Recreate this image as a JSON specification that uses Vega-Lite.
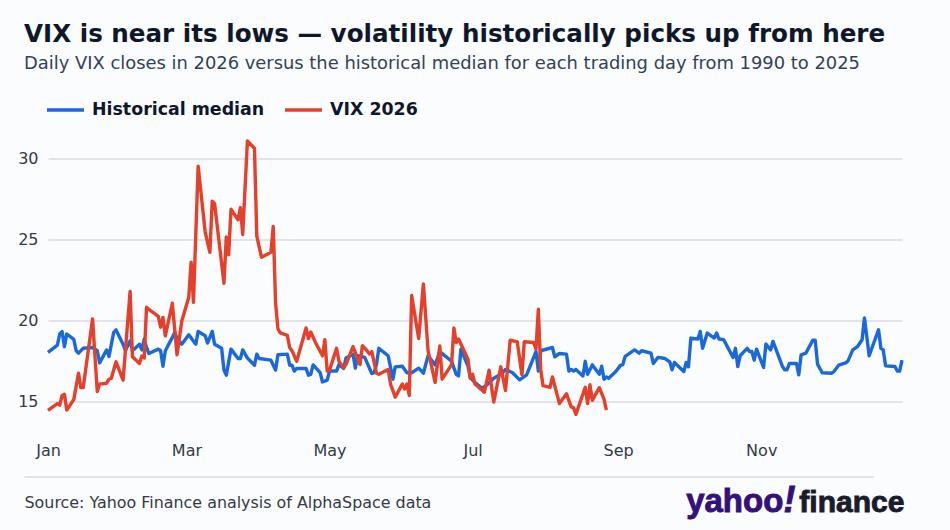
{
  "$schema": "https://vega.github.io/schema/vega-lite/v6.json",
  "autosize": "none",
  "width": 854,
  "height": 309,
  "padding": {"left": 48, "top": 125.5, "right": 48, "bottom": 95.5},
  "background": "#fbfcfe",
  "title": {
    "text": "VIX is near its lows — volatility historically picks up from here",
    "subtitle": "Daily VIX closes in 2026 versus the historical median for each trading day from 1990 to 2025",
    "anchor": "start",
    "frame": "group",
    "dx": -24,
    "offset": 16,
    "font": "DejaVu Sans",
    "fontSize": 24.6,
    "fontWeight": "bold",
    "color": "#0f172a",
    "subtitleFont": "DejaVu Sans",
    "subtitleFontSize": 17.9,
    "subtitleColor": "#334155",
    "subtitlePadding": 7
  },
  "config": {"view": {"stroke": null}},
  "layer": [
    {
      "data": {"values": [
        {"date":"2026-01-01","series":"Historical median","vix":18.05},
        {"date":"2026-01-05","series":"Historical median","vix":18.5},
        {"date":"2026-01-06","series":"Historical median","vix":19.18},
        {"date":"2026-01-07","series":"Historical median","vix":19.33},
        {"date":"2026-01-08","series":"Historical median","vix":18.4},
        {"date":"2026-01-09","series":"Historical median","vix":19.18},
        {"date":"2026-01-12","series":"Historical median","vix":18.85},
        {"date":"2026-01-13","series":"Historical median","vix":18.15},
        {"date":"2026-01-14","series":"Historical median","vix":18.0},
        {"date":"2026-01-16","series":"Historical median","vix":18.3},
        {"date":"2026-01-20","series":"Historical median","vix":18.35},
        {"date":"2026-01-22","series":"Historical median","vix":18.15},
        {"date":"2026-01-23","series":"Historical median","vix":17.4},
        {"date":"2026-01-26","series":"Historical median","vix":18.2},
        {"date":"2026-01-27","series":"Historical median","vix":17.8},
        {"date":"2026-01-29","series":"Historical median","vix":19.28},
        {"date":"2026-01-30","series":"Historical median","vix":19.43},
        {"date":"2026-02-02","series":"Historical median","vix":18.55},
        {"date":"2026-02-03","series":"Historical median","vix":18.15},
        {"date":"2026-02-05","series":"Historical median","vix":18.76},
        {"date":"2026-02-06","series":"Historical median","vix":18.15},
        {"date":"2026-02-09","series":"Historical median","vix":18.55},
        {"date":"2026-02-10","series":"Historical median","vix":18.2},
        {"date":"2026-02-11","series":"Historical median","vix":18.87},
        {"date":"2026-02-12","series":"Historical median","vix":18.35},
        {"date":"2026-02-13","series":"Historical median","vix":17.98},
        {"date":"2026-02-17","series":"Historical median","vix":18.25},
        {"date":"2026-02-18","series":"Historical median","vix":18.15},
        {"date":"2026-02-19","series":"Historical median","vix":17.2},
        {"date":"2026-02-20","series":"Historical median","vix":18.15},
        {"date":"2026-02-23","series":"Historical median","vix":18.97},
        {"date":"2026-02-24","series":"Historical median","vix":19.28},
        {"date":"2026-02-25","series":"Historical median","vix":18.9},
        {"date":"2026-02-27","series":"Historical median","vix":18.55},
        {"date":"2026-03-02","series":"Historical median","vix":19.13},
        {"date":"2026-03-05","series":"Historical median","vix":18.55},
        {"date":"2026-03-06","series":"Historical median","vix":19.34},
        {"date":"2026-03-09","series":"Historical median","vix":19.07},
        {"date":"2026-03-10","series":"Historical median","vix":18.62},
        {"date":"2026-03-12","series":"Historical median","vix":19.34},
        {"date":"2026-03-13","series":"Historical median","vix":18.55},
        {"date":"2026-03-16","series":"Historical median","vix":18.3},
        {"date":"2026-03-17","series":"Historical median","vix":16.96},
        {"date":"2026-03-18","series":"Historical median","vix":16.65},
        {"date":"2026-03-20","series":"Historical median","vix":18.25},
        {"date":"2026-03-23","series":"Historical median","vix":17.67},
        {"date":"2026-03-24","series":"Historical median","vix":17.67},
        {"date":"2026-03-25","series":"Historical median","vix":18.2},
        {"date":"2026-03-27","series":"Historical median","vix":17.7},
        {"date":"2026-03-30","series":"Historical median","vix":17.26},
        {"date":"2026-03-31","series":"Historical median","vix":17.94},
        {"date":"2026-04-01","series":"Historical median","vix":17.67},
        {"date":"2026-04-06","series":"Historical median","vix":17.57},
        {"date":"2026-04-08","series":"Historical median","vix":16.96},
        {"date":"2026-04-09","series":"Historical median","vix":17.9},
        {"date":"2026-04-13","series":"Historical median","vix":17.94},
        {"date":"2026-04-14","series":"Historical median","vix":17.26},
        {"date":"2026-04-15","series":"Historical median","vix":17.26},
        {"date":"2026-04-16","series":"Historical median","vix":16.9},
        {"date":"2026-04-17","series":"Historical median","vix":17.06},
        {"date":"2026-04-21","series":"Historical median","vix":17.06},
        {"date":"2026-04-22","series":"Historical median","vix":16.65},
        {"date":"2026-04-23","series":"Historical median","vix":16.7},
        {"date":"2026-04-24","series":"Historical median","vix":17.28},
        {"date":"2026-04-27","series":"Historical median","vix":16.8},
        {"date":"2026-04-28","series":"Historical median","vix":16.23},
        {"date":"2026-04-30","series":"Historical median","vix":16.34},
        {"date":"2026-05-01","series":"Historical median","vix":16.9},
        {"date":"2026-05-04","series":"Historical median","vix":16.9},
        {"date":"2026-05-05","series":"Historical median","vix":17.3},
        {"date":"2026-05-07","series":"Historical median","vix":17.06},
        {"date":"2026-05-08","series":"Historical median","vix":17.7},
        {"date":"2026-05-11","series":"Historical median","vix":17.94},
        {"date":"2026-05-12","series":"Historical median","vix":17.08},
        {"date":"2026-05-13","series":"Historical median","vix":17.85},
        {"date":"2026-05-16","series":"Historical median","vix":17.74},
        {"date":"2026-05-19","series":"Historical median","vix":16.75},
        {"date":"2026-05-20","series":"Historical median","vix":16.8},
        {"date":"2026-05-21","series":"Historical median","vix":17.3},
        {"date":"2026-05-22","series":"Historical median","vix":18.3},
        {"date":"2026-05-26","series":"Historical median","vix":17.84},
        {"date":"2026-05-28","series":"Historical median","vix":16.4},
        {"date":"2026-05-29","series":"Historical median","vix":17.16},
        {"date":"2026-06-01","series":"Historical median","vix":17.2},
        {"date":"2026-06-03","series":"Historical median","vix":16.8},
        {"date":"2026-06-05","series":"Historical median","vix":16.8},
        {"date":"2026-06-08","series":"Historical median","vix":17.08},
        {"date":"2026-06-10","series":"Historical median","vix":16.77},
        {"date":"2026-06-12","series":"Historical median","vix":17.84},
        {"date":"2026-06-15","series":"Historical median","vix":17.28},
        {"date":"2026-06-17","series":"Historical median","vix":18.1},
        {"date":"2026-06-21","series":"Historical median","vix":17.63},
        {"date":"2026-06-22","series":"Historical median","vix":17.5},
        {"date":"2026-06-24","series":"Historical median","vix":16.7},
        {"date":"2026-06-25","series":"Historical median","vix":16.6},
        {"date":"2026-06-26","series":"Historical median","vix":18.25},
        {"date":"2026-06-29","series":"Historical median","vix":17.2},
        {"date":"2026-06-30","series":"Historical median","vix":16.5},
        {"date":"2026-07-02","series":"Historical median","vix":16.2},
        {"date":"2026-07-05","series":"Historical median","vix":15.84},
        {"date":"2026-07-07","series":"Historical median","vix":16.05},
        {"date":"2026-07-10","series":"Historical median","vix":16.46},
        {"date":"2026-07-13","series":"Historical median","vix":16.7},
        {"date":"2026-07-15","series":"Historical median","vix":17.0},
        {"date":"2026-07-18","series":"Historical median","vix":16.8},
        {"date":"2026-07-21","series":"Historical median","vix":16.36},
        {"date":"2026-07-24","series":"Historical median","vix":16.67},
        {"date":"2026-07-28","series":"Historical median","vix":18.1},
        {"date":"2026-07-29","series":"Historical median","vix":16.9},
        {"date":"2026-07-30","series":"Historical median","vix":18.15},
        {"date":"2026-08-04","series":"Historical median","vix":18.35},
        {"date":"2026-08-05","series":"Historical median","vix":17.78},
        {"date":"2026-08-07","series":"Historical median","vix":17.98},
        {"date":"2026-08-10","series":"Historical median","vix":17.94},
        {"date":"2026-08-11","series":"Historical median","vix":16.9},
        {"date":"2026-08-12","series":"Historical median","vix":17.0},
        {"date":"2026-08-13","series":"Historical median","vix":16.9},
        {"date":"2026-08-14","series":"Historical median","vix":17.0},
        {"date":"2026-08-17","series":"Historical median","vix":16.6},
        {"date":"2026-08-18","series":"Historical median","vix":17.5},
        {"date":"2026-08-19","series":"Historical median","vix":16.7},
        {"date":"2026-08-21","series":"Historical median","vix":17.28},
        {"date":"2026-08-24","series":"Historical median","vix":16.7},
        {"date":"2026-08-25","series":"Historical median","vix":17.2},
        {"date":"2026-08-26","series":"Historical median","vix":16.4},
        {"date":"2026-08-27","series":"Historical median","vix":16.54},
        {"date":"2026-08-28","series":"Historical median","vix":16.46},
        {"date":"2026-08-31","series":"Historical median","vix":16.87},
        {"date":"2026-09-02","series":"Historical median","vix":17.25},
        {"date":"2026-09-03","series":"Historical median","vix":17.3},
        {"date":"2026-09-04","series":"Historical median","vix":17.8},
        {"date":"2026-09-08","series":"Historical median","vix":18.2},
        {"date":"2026-09-10","series":"Historical median","vix":18.0},
        {"date":"2026-09-11","series":"Historical median","vix":18.15},
        {"date":"2026-09-15","series":"Historical median","vix":18.0},
        {"date":"2026-09-16","series":"Historical median","vix":17.37},
        {"date":"2026-09-18","series":"Historical median","vix":17.74},
        {"date":"2026-09-21","series":"Historical median","vix":17.67},
        {"date":"2026-09-23","series":"Historical median","vix":17.47},
        {"date":"2026-09-24","series":"Historical median","vix":16.98},
        {"date":"2026-09-25","series":"Historical median","vix":17.43},
        {"date":"2026-09-29","series":"Historical median","vix":16.87},
        {"date":"2026-09-30","series":"Historical median","vix":17.43},
        {"date":"2026-10-01","series":"Historical median","vix":17.16},
        {"date":"2026-10-02","series":"Historical median","vix":18.93},
        {"date":"2026-10-05","series":"Historical median","vix":18.87},
        {"date":"2026-10-06","series":"Historical median","vix":19.34},
        {"date":"2026-10-07","series":"Historical median","vix":18.3},
        {"date":"2026-10-09","series":"Historical median","vix":19.24},
        {"date":"2026-10-12","series":"Historical median","vix":18.93},
        {"date":"2026-10-13","series":"Historical median","vix":19.24},
        {"date":"2026-10-14","series":"Historical median","vix":18.87},
        {"date":"2026-10-16","series":"Historical median","vix":18.83},
        {"date":"2026-10-20","series":"Historical median","vix":17.74},
        {"date":"2026-10-21","series":"Historical median","vix":18.3},
        {"date":"2026-10-22","series":"Historical median","vix":17.18},
        {"date":"2026-10-23","series":"Historical median","vix":17.84},
        {"date":"2026-10-26","series":"Historical median","vix":18.3},
        {"date":"2026-10-27","series":"Historical median","vix":18.1},
        {"date":"2026-10-28","series":"Historical median","vix":18.1},
        {"date":"2026-10-29","series":"Historical median","vix":17.57},
        {"date":"2026-10-30","series":"Historical median","vix":18.25},
        {"date":"2026-11-02","series":"Historical median","vix":17.12},
        {"date":"2026-11-03","series":"Historical median","vix":18.56},
        {"date":"2026-11-05","series":"Historical median","vix":18.2},
        {"date":"2026-11-06","series":"Historical median","vix":18.72},
        {"date":"2026-11-10","series":"Historical median","vix":17.2},
        {"date":"2026-11-11","series":"Historical median","vix":16.98},
        {"date":"2026-11-12","series":"Historical median","vix":16.98},
        {"date":"2026-11-13","series":"Historical median","vix":17.37},
        {"date":"2026-11-16","series":"Historical median","vix":17.37},
        {"date":"2026-11-17","series":"Historical median","vix":16.67},
        {"date":"2026-11-18","series":"Historical median","vix":17.9},
        {"date":"2026-11-20","series":"Historical median","vix":18.0},
        {"date":"2026-11-23","series":"Historical median","vix":18.8},
        {"date":"2026-11-24","series":"Historical median","vix":18.8},
        {"date":"2026-11-25","series":"Historical median","vix":17.33},
        {"date":"2026-11-27","series":"Historical median","vix":16.8},
        {"date":"2026-12-01","series":"Historical median","vix":16.77},
        {"date":"2026-12-02","series":"Historical median","vix":16.87},
        {"date":"2026-12-04","series":"Historical median","vix":17.26},
        {"date":"2026-12-07","series":"Historical median","vix":17.4},
        {"date":"2026-12-08","series":"Historical median","vix":17.53},
        {"date":"2026-12-10","series":"Historical median","vix":18.2},
        {"date":"2026-12-12","series":"Historical median","vix":18.4},
        {"date":"2026-12-14","series":"Historical median","vix":18.83},
        {"date":"2026-12-15","series":"Historical median","vix":20.16},
        {"date":"2026-12-17","series":"Historical median","vix":17.84},
        {"date":"2026-12-21","series":"Historical median","vix":19.44},
        {"date":"2026-12-22","series":"Historical median","vix":18.3},
        {"date":"2026-12-23","series":"Historical median","vix":18.2},
        {"date":"2026-12-24","series":"Historical median","vix":17.22},
        {"date":"2026-12-28","series":"Historical median","vix":17.18},
        {"date":"2026-12-29","series":"Historical median","vix":16.9},
        {"date":"2026-12-30","series":"Historical median","vix":16.9},
        {"date":"2026-12-31","series":"Historical median","vix":17.57},
        {"date":"2026-01-01","series":"VIX 2026","vix":14.49},
        {"date":"2026-01-05","series":"VIX 2026","vix":14.9},
        {"date":"2026-01-06","series":"VIX 2026","vix":14.8},
        {"date":"2026-01-07","series":"VIX 2026","vix":15.4},
        {"date":"2026-01-08","series":"VIX 2026","vix":15.47},
        {"date":"2026-01-09","series":"VIX 2026","vix":14.5},
        {"date":"2026-01-12","series":"VIX 2026","vix":15.16},
        {"date":"2026-01-14","series":"VIX 2026","vix":16.77},
        {"date":"2026-01-15","series":"VIX 2026","vix":15.88},
        {"date":"2026-01-16","series":"VIX 2026","vix":15.88},
        {"date":"2026-01-20","series":"VIX 2026","vix":20.1},
        {"date":"2026-01-22","series":"VIX 2026","vix":15.64},
        {"date":"2026-01-23","series":"VIX 2026","vix":16.1},
        {"date":"2026-01-26","series":"VIX 2026","vix":16.15},
        {"date":"2026-01-27","series":"VIX 2026","vix":16.4},
        {"date":"2026-01-28","series":"VIX 2026","vix":16.46},
        {"date":"2026-01-30","series":"VIX 2026","vix":17.47},
        {"date":"2026-02-02","series":"VIX 2026","vix":16.34},
        {"date":"2026-02-05","series":"VIX 2026","vix":21.8},
        {"date":"2026-02-06","series":"VIX 2026","vix":17.78},
        {"date":"2026-02-09","series":"VIX 2026","vix":17.37},
        {"date":"2026-02-10","series":"VIX 2026","vix":17.82},
        {"date":"2026-02-11","series":"VIX 2026","vix":17.7},
        {"date":"2026-02-12","series":"VIX 2026","vix":20.82},
        {"date":"2026-02-14","series":"VIX 2026","vix":20.58},
        {"date":"2026-02-17","series":"VIX 2026","vix":20.27},
        {"date":"2026-02-18","series":"VIX 2026","vix":19.6},
        {"date":"2026-02-19","series":"VIX 2026","vix":20.2},
        {"date":"2026-02-20","series":"VIX 2026","vix":19.07},
        {"date":"2026-02-23","series":"VIX 2026","vix":21.07},
        {"date":"2026-02-25","series":"VIX 2026","vix":17.9},
        {"date":"2026-02-27","series":"VIX 2026","vix":19.96},
        {"date":"2026-03-02","series":"VIX 2026","vix":21.44},
        {"date":"2026-03-03","series":"VIX 2026","vix":23.6},
        {"date":"2026-03-04","series":"VIX 2026","vix":21.13},
        {"date":"2026-03-06","series":"VIX 2026","vix":29.5},
        {"date":"2026-03-09","series":"VIX 2026","vix":25.45},
        {"date":"2026-03-11","series":"VIX 2026","vix":24.2},
        {"date":"2026-03-12","series":"VIX 2026","vix":27.35},
        {"date":"2026-03-13","series":"VIX 2026","vix":27.2},
        {"date":"2026-03-17","series":"VIX 2026","vix":22.3},
        {"date":"2026-03-18","series":"VIX 2026","vix":25.15},
        {"date":"2026-03-19","series":"VIX 2026","vix":24.05},
        {"date":"2026-03-20","series":"VIX 2026","vix":26.85},
        {"date":"2026-03-23","series":"VIX 2026","vix":26.2},
        {"date":"2026-03-24","series":"VIX 2026","vix":26.95},
        {"date":"2026-03-25","series":"VIX 2026","vix":25.3},
        {"date":"2026-03-27","series":"VIX 2026","vix":31.05},
        {"date":"2026-03-30","series":"VIX 2026","vix":30.6},
        {"date":"2026-03-31","series":"VIX 2026","vix":25.2},
        {"date":"2026-04-02","series":"VIX 2026","vix":23.9},
        {"date":"2026-04-06","series":"VIX 2026","vix":24.2},
        {"date":"2026-04-07","series":"VIX 2026","vix":25.8},
        {"date":"2026-04-08","series":"VIX 2026","vix":21.1},
        {"date":"2026-04-09","series":"VIX 2026","vix":19.5},
        {"date":"2026-04-10","series":"VIX 2026","vix":19.25},
        {"date":"2026-04-13","series":"VIX 2026","vix":19.1},
        {"date":"2026-04-14","series":"VIX 2026","vix":18.35},
        {"date":"2026-04-15","series":"VIX 2026","vix":18.15},
        {"date":"2026-04-17","series":"VIX 2026","vix":17.5},
        {"date":"2026-04-21","series":"VIX 2026","vix":19.55},
        {"date":"2026-04-22","series":"VIX 2026","vix":18.9},
        {"date":"2026-04-23","series":"VIX 2026","vix":19.3},
        {"date":"2026-04-25","series":"VIX 2026","vix":18.66},
        {"date":"2026-04-28","series":"VIX 2026","vix":17.84},
        {"date":"2026-04-29","series":"VIX 2026","vix":18.83},
        {"date":"2026-04-30","series":"VIX 2026","vix":16.9},
        {"date":"2026-05-01","series":"VIX 2026","vix":16.95},
        {"date":"2026-05-04","series":"VIX 2026","vix":18.3},
        {"date":"2026-05-05","series":"VIX 2026","vix":17.5},
        {"date":"2026-05-07","series":"VIX 2026","vix":17.1},
        {"date":"2026-05-08","series":"VIX 2026","vix":17.3},
        {"date":"2026-05-11","series":"VIX 2026","vix":18.4},
        {"date":"2026-05-14","series":"VIX 2026","vix":17.3},
        {"date":"2026-05-15","series":"VIX 2026","vix":18.46},
        {"date":"2026-05-17","series":"VIX 2026","vix":18.15},
        {"date":"2026-05-18","series":"VIX 2026","vix":17.95},
        {"date":"2026-05-19","series":"VIX 2026","vix":18.1},
        {"date":"2026-05-21","series":"VIX 2026","vix":16.77},
        {"date":"2026-05-22","series":"VIX 2026","vix":16.7},
        {"date":"2026-05-26","series":"VIX 2026","vix":17.0},
        {"date":"2026-05-27","series":"VIX 2026","vix":16.1},
        {"date":"2026-05-29","series":"VIX 2026","vix":15.3},
        {"date":"2026-06-01","series":"VIX 2026","vix":16.1},
        {"date":"2026-06-02","series":"VIX 2026","vix":15.8},
        {"date":"2026-06-03","series":"VIX 2026","vix":16.1},
        {"date":"2026-06-04","series":"VIX 2026","vix":15.4},
        {"date":"2026-06-05","series":"VIX 2026","vix":21.55},
        {"date":"2026-06-08","series":"VIX 2026","vix":18.9},
        {"date":"2026-06-10","series":"VIX 2026","vix":22.26},
        {"date":"2026-06-12","series":"VIX 2026","vix":18.15},
        {"date":"2026-06-15","series":"VIX 2026","vix":16.2},
        {"date":"2026-06-17","series":"VIX 2026","vix":18.45},
        {"date":"2026-06-18","series":"VIX 2026","vix":16.4},
        {"date":"2026-06-22","series":"VIX 2026","vix":17.3},
        {"date":"2026-06-23","series":"VIX 2026","vix":19.55},
        {"date":"2026-06-24","series":"VIX 2026","vix":18.66},
        {"date":"2026-06-25","series":"VIX 2026","vix":18.87},
        {"date":"2026-06-29","series":"VIX 2026","vix":17.63},
        {"date":"2026-06-30","series":"VIX 2026","vix":16.46},
        {"date":"2026-07-01","series":"VIX 2026","vix":16.7},
        {"date":"2026-07-02","series":"VIX 2026","vix":16.1},
        {"date":"2026-07-06","series":"VIX 2026","vix":15.6},
        {"date":"2026-07-08","series":"VIX 2026","vix":16.95},
        {"date":"2026-07-10","series":"VIX 2026","vix":15.0},
        {"date":"2026-07-13","series":"VIX 2026","vix":17.16},
        {"date":"2026-07-15","series":"VIX 2026","vix":15.7},
        {"date":"2026-07-17","series":"VIX 2026","vix":18.8},
        {"date":"2026-07-20","series":"VIX 2026","vix":18.7},
        {"date":"2026-07-22","series":"VIX 2026","vix":16.67},
        {"date":"2026-07-23","series":"VIX 2026","vix":18.7},
        {"date":"2026-07-27","series":"VIX 2026","vix":18.66},
        {"date":"2026-07-28","series":"VIX 2026","vix":18.25},
        {"date":"2026-07-29","series":"VIX 2026","vix":20.7},
        {"date":"2026-07-30","series":"VIX 2026","vix":17.0},
        {"date":"2026-07-31","series":"VIX 2026","vix":16.0},
        {"date":"2026-08-03","series":"VIX 2026","vix":15.9},
        {"date":"2026-08-04","series":"VIX 2026","vix":16.54},
        {"date":"2026-08-07","series":"VIX 2026","vix":14.9},
        {"date":"2026-08-10","series":"VIX 2026","vix":15.5},
        {"date":"2026-08-12","series":"VIX 2026","vix":14.7},
        {"date":"2026-08-13","series":"VIX 2026","vix":14.65},
        {"date":"2026-08-14","series":"VIX 2026","vix":14.24},
        {"date":"2026-08-18","series":"VIX 2026","vix":15.9},
        {"date":"2026-08-19","series":"VIX 2026","vix":14.9},
        {"date":"2026-08-20","series":"VIX 2026","vix":16.06},
        {"date":"2026-08-21","series":"VIX 2026","vix":15.1},
        {"date":"2026-08-24","series":"VIX 2026","vix":15.88},
        {"date":"2026-08-26","series":"VIX 2026","vix":15.16},
        {"date":"2026-08-27","series":"VIX 2026","vix":14.5}
      ]},
      "mark": {"type": "line", "strokeWidth": 3.4, "strokeJoin": "round", "interpolate": "linear"},
      "encoding": {
        "x": {
          "field": "date",
          "type": "temporal",
          "scale": {"type": "utc", "domain": ["2026-01-01", "2026-12-31"], "nice": false},
          "axis": {
            "format": "%b",
            "tickCount": {"interval": "month", "step": 2},
            "domain": false,
            "ticks": false,
            "grid": false,
            "labelFont": "DejaVu Sans",
            "labelFontSize": 16,
            "labelColor": "#333a45",
            "labelPadding": 8,
            "labelFlush": false,
            "title": "Source: Yahoo Finance analysis of AlphaSpace data",
            "titleFont": "DejaVu Sans",
            "titleFontSize": 15.9,
            "titleFontWeight": "normal",
            "titleColor": "#333a45",
            "titleAnchor": "start",
            "titleAlign": "left",
            "titleBaseline": "alphabetic",
            "titleX": -24,
            "titleY": 73
          }
        },
        "y": {
          "field": "vix",
          "type": "quantitative",
          "scale": {"domain": [13, 32], "nice": false, "zero": false},
          "axis": {
            "values": [15, 20, 25, 30],
            "domain": false,
            "ticks": false,
            "grid": true,
            "gridColor": "#d9dce2",
            "gridWidth": 1.5,
            "labelFont": "DejaVu Sans",
            "labelFontSize": 16,
            "labelColor": "#333a45",
            "labelPadding": 10,
            "title": null
          }
        },
        "color": {
          "field": "series",
          "type": "nominal",
          "scale": {"domain": ["Historical median", "VIX 2026"], "range": ["#1b69d8", "#e5402b"]},
          "legend": {
            "title": null,
            "orient": "none",
            "legendX": -3,
            "legendY": -36,
            "direction": "horizontal",
            "symbolType": "stroke",
            "symbolSize": 1369,
            "symbolStrokeWidth": 3.4,
            "labelFont": "DejaVu Sans",
            "labelFontSize": 17.4,
            "labelFontWeight": "bold",
            "labelColor": "#0f172a",
            "labelOffset": 6,
            "labelLimit": 300,
            "columnPadding": 13
          }
        }
      }
    },
    {
      "data": {"values": [{"note": "footer rule"}]},
      "mark": {"type": "rule", "color": "#dfe2e8", "strokeWidth": 2},
      "encoding": {
        "x": {"datum": {"year": 2025, "month": 12, "date": 22, "utc": true}, "type": "temporal"},
        "x2": {"datum": {"year": 2026, "month": 12, "date": 19, "utc": true}},
        "y": {"datum": 10.39, "type": "quantitative"}
      }
    },
    {
      "data": {"values": [{"label": "yahoo"}]},
      "mark": {"type": "text", "align": "left", "baseline": "alphabetic", "font": "Liberation Sans", "fontWeight": "bold", "fontSize": 33, "color": "#34107a", "stroke": "#34107a", "strokeWidth": 0.9},
      "encoding": {
        "x": {"datum": {"year": 2026, "month": 9, "date": 30, "utc": true}, "type": "temporal"},
        "y": {"datum": 8.24, "type": "quantitative"},
        "text": {"field": "label"}
      }
    },
    {
      "data": {"values": [{"label": "!"}]},
      "mark": {"type": "text", "align": "center", "baseline": "alphabetic", "font": "Liberation Sans", "fontWeight": "bold", "fontStyle": "italic", "fontSize": 36, "color": "#34107a", "stroke": "#34107a", "strokeWidth": 0.9},
      "encoding": {
        "x": {"datum": {"year": 2026, "month": 11, "date": 13, "utc": true}, "type": "temporal"},
        "y": {"datum": 8.24, "type": "quantitative"},
        "text": {"field": "label"}
      }
    },
    {
      "data": {"values": [{"label": "finance"}]},
      "mark": {"type": "text", "align": "right", "baseline": "alphabetic", "font": "Liberation Sans", "fontWeight": "bold", "fontSize": 30, "color": "#1a1c2b", "stroke": "#1a1c2b", "strokeWidth": 0.9},
      "encoding": {
        "x": {"datum": {"year": 2027, "month": 1, "date": 1, "utc": true}, "type": "temporal"},
        "y": {"datum": 8.24, "type": "quantitative"},
        "text": {"field": "label"}
      }
    }
  ]
}
